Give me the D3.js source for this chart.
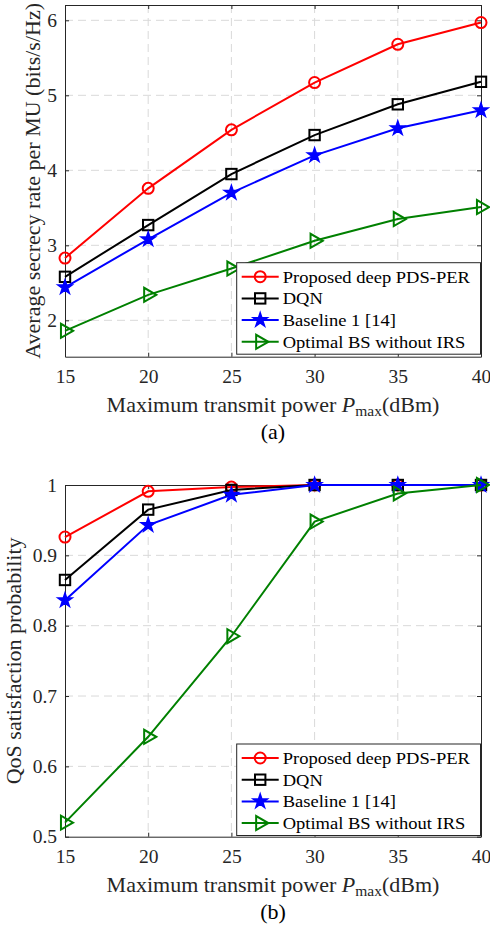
<!DOCTYPE html>
<html>
<head>
<meta charset="utf-8">
<script src="https://cdn.jsdelivr.net/npm/d3@7"></script>
<style>
  body { margin: 0; background: #fff; }
  svg { display: block; font-family: "Liberation Serif", "Times New Roman", serif; }
</style>
</head>
<body>
<svg id="chart" width="490" height="932"></svg>
<script>
// data
var power = [15, 20, 25, 30, 35, 40];
var xTicks = [15, 20, 25, 30, 35, 40];

var rateProposed = [2.83, 3.76, 4.54, 5.17, 5.68, 5.97];
var rateDqn      = [2.58, 3.27, 3.95, 4.47, 4.88, 5.18];
var rateBaseline = [2.44, 3.08, 3.70, 4.20, 4.56, 4.80];
var rateNoIrs    = [1.86, 2.34, 2.69, 3.06, 3.35, 3.51];
var rateTicks = [2, 3, 4, 5, 6];

var qosProposed = [0.926, 0.991, 0.997, 1.0, 1.0, 1.0];
var qosDqn      = [0.865, 0.965, 0.993, 1.0, 1.0, 1.0];
var qosBaseline = [0.836, 0.943, 0.986, 1.0, 1.0, 1.0];
var qosNoIrs    = [0.520, 0.642, 0.785, 0.948, 0.988, 1.0];
var qosTicks = [0.5, 0.6, 0.7, 0.8, 0.9, 1];

var seriesNames = ["Proposed deep PDS-PER", "DQN", "Baseline 1 [14]", "Optimal BS without IRS"];

var styles = [
  {color: "#ff0000", marker: "circle"},
  {color: "#000000", marker: "square"},
  {color: "#0000ff", marker: "star"},
  {color: "#008000", marker: "triangle"}
];

var axisColor = "#262626",
    tickFont = 19.5,
    labelFont = 22;

var svg = d3.select("#chart");

function drawMarker(g, type, color) {
  if (type === "circle") {
    g.append("circle").attr("r", 5.5)
      .attr("fill", "none").attr("stroke", color).attr("stroke-width", 2);
  } else if (type === "square") {
    g.append("rect").attr("x", -5.2).attr("y", -5.2).attr("width", 10.4).attr("height", 10.4)
      .attr("fill", "none").attr("stroke", color).attr("stroke-width", 2);
  } else if (type === "star") {
    g.append("path").attr("d", d3.symbol(d3.symbolStar, 62)())
      .attr("fill", color).attr("stroke", color).attr("stroke-width", 1.5)
      .attr("stroke-linejoin", "miter");
  } else {
    g.append("path").attr("d", d3.symbol(d3.symbolTriangle, 85)())
      .attr("transform", "rotate(90)")
      .attr("fill", "none").attr("stroke", color).attr("stroke-width", 2);
  }
}

function drawChart(opt) {
  var left = 65, right = 481,
      width = right - left,
      height = opt.bottom - opt.top;

  var x = d3.scaleLinear().domain([15, 40]).range([0, width]);
  var y = d3.scaleLinear().domain(opt.yDomain).range([height, 0]);

  var g = svg.append("g").attr("transform", `translate(${left}, ${opt.top})`);

  // grid
  g.append("g").selectAll("line.gx")
    .data(xTicks.slice(1, -1))
    .enter().append("line")
    .attr("x1", d => x(d)).attr("x2", d => x(d))
    .attr("y1", 0).attr("y2", height)
    .attr("stroke", "#d9d9d9").attr("stroke-width", 1).attr("stroke-dasharray", "8,5");
  g.append("g").selectAll("line.gy")
    .data(opt.yTicks.filter(d => y(d) > 1 && y(d) < height - 1))
    .enter().append("line")
    .attr("x1", 0).attr("x2", width)
    .attr("y1", d => y(d)).attr("y2", d => y(d))
    .attr("stroke", "#d9d9d9").attr("stroke-width", 1).attr("stroke-dasharray", "8,5");

  // axes (inward ticks, box on)
  g.append("g")
    .attr("transform", `translate(0, ${height})`)
    .call(d3.axisBottom(x).tickValues(xTicks).tickSize(-4).tickPadding(12.5).tickSizeOuter(0));
  g.append("g")
    .call(d3.axisLeft(y).tickValues(opt.yTicks).tickSize(-4).tickPadding(8).tickSizeOuter(0)
      .tickFormat(opt.tickFormat));
  g.append("g")
    .call(d3.axisTop(x).tickValues(xTicks).tickSize(-4).tickFormat("").tickSizeOuter(0));
  g.append("g")
    .attr("transform", `translate(${width}, 0)`)
    .call(d3.axisRight(y).tickValues(opt.yTicks).tickSize(-4).tickFormat("").tickSizeOuter(0));

  g.selectAll(".domain, .tick line").attr("stroke", axisColor).attr("stroke-width", 1);
  g.selectAll(".tick text")
    .attr("fill", axisColor)
    .attr("font-family", "Liberation Serif")
    .attr("font-size", tickFont);

  // series
  var line = d3.line().x((d, i) => x(power[i])).y(d => y(d));
  opt.series.forEach((vals, k) => {
    var st = styles[k];
    g.append("path")
      .datum(vals)
      .attr("d", line)
      .attr("fill", "none")
      .attr("stroke", st.color)
      .attr("stroke-width", 2);
    vals.forEach((v, i) => {
      var m = g.append("g").attr("transform", `translate(${x(power[i])}, ${y(v)})`);
      drawMarker(m, st.marker, st.color);
    });
  });

  // legend
  var lg = g.append("g").attr("transform", `translate(${236.7 - left}, ${opt.legendTop - opt.top})`);
  lg.append("rect")
    .attr("width", 480.5 - 236.7).attr("height", 91.5)
    .attr("fill", "#fff").attr("stroke", axisColor).attr("stroke-width", 1);
  seriesNames.forEach((name, k) => {
    var yy = 14 + k * 21.7;
    var row = lg.append("g").attr("transform", `translate(0, ${yy})`);
    row.append("line").attr("x1", 5).attr("x2", 42)
      .attr("stroke", styles[k].color).attr("stroke-width", 2);
    var m = row.append("g").attr("transform", "translate(23.5, 0)");
    drawMarker(m, styles[k].marker, styles[k].color);
    row.append("text")
      .attr("transform", "translate(46, 0) scale(1.09, 1)")
      .attr("dy", "0.35em")
      .attr("font-size", 17)
      .attr("fill", "#000")
      .text(name);
  });

  // x label
  var xl = g.append("text")
    .attr("x", width / 2)
    .attr("y", height + 55)
    .attr("text-anchor", "middle")
    .attr("font-size", labelFont)
    .attr("fill", axisColor);
  xl.append("tspan").text("Maximum transmit power ");
  xl.append("tspan").attr("font-style", "italic").text("P");
  xl.append("tspan").attr("font-size", 15.5).attr("dy", 4).text("max");
  xl.append("tspan").attr("dy", -4).text("(dBm)");

  // y label
  g.append("text")
    .attr("transform", `translate(${opt.yLabelX - left}, ${height / 2}) rotate(-90)`)
    .attr("text-anchor", "middle")
    .attr("font-size", labelFont)
    .attr("fill", axisColor)
    .text(opt.yLabel);

  // caption
  g.append("text")
    .attr("x", width / 2)
    .attr("y", height + 82)
    .attr("text-anchor", "middle")
    .attr("font-size", labelFont)
    .attr("fill", "#000")
    .text(opt.caption);
}

drawChart({
  top: 5, bottom: 356.7,
  yDomain: [1.515, 6.204],
  yTicks: rateTicks,
  tickFormat: d3.format("d"),
  series: [rateProposed, rateDqn, rateBaseline, rateNoIrs],
  legendTop: 262.7,
  yLabel: "Average secrecy rate per MU (bits/s/Hz)",
  yLabelX: 40,
  caption: "(a)"
});

drawChart({
  top: 485, bottom: 836.7,
  yDomain: [0.5, 1.0],
  yTicks: qosTicks,
  tickFormat: d => d === 1 ? "1" : d3.format(".1f")(d),
  series: [qosProposed, qosDqn, qosBaseline, qosNoIrs],
  legendTop: 744,
  yLabel: "QoS satisfaction probability",
  yLabelX: 21,
  caption: "(b)"
});
</script>
</body>
</html>
